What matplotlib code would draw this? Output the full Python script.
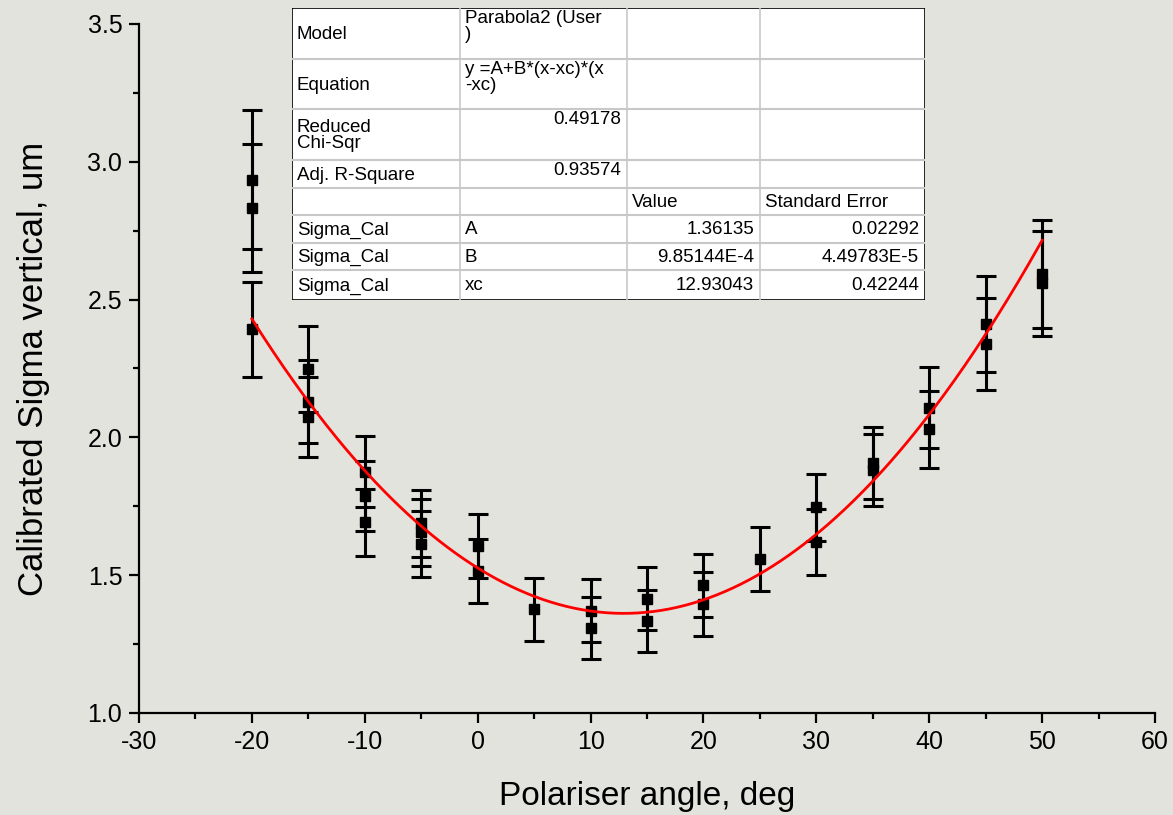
import numpy as np
import matplotlib
matplotlib.use("Agg")
import matplotlib.pyplot as plt
from matplotlib.ticker import MultipleLocator

plt.rcParams['font.family'] = ['Liberation Sans', 'DejaVu Sans']
plt.rcParams['axes.unicode_minus'] = False

# measured points (polariser angle, sigma, error)
angle = [-20, -20, -20, -15, -15, -15, -10, -10, -10, -5, -5, -5,
         0, 0, 5, 10, 10, 15, 15, 20, 20, 25, 30, 30, 35, 35,
         40, 40, 45, 45, 50, 50]
sigma = [2.934, 2.833, 2.392, 2.248, 2.130, 2.075, 1.876, 1.787, 1.692,
         1.688, 1.655, 1.613, 1.606, 1.515, 1.376, 1.371, 1.308,
         1.415, 1.334, 1.463, 1.396, 1.558, 1.746, 1.619, 1.906, 1.882,
         2.108, 2.030, 2.411, 2.338, 2.592, 2.559]
sigma_err = [0.252, 0.232, 0.172, 0.156, 0.150, 0.145, 0.130, 0.127, 0.122,
             0.121, 0.121, 0.120, 0.117, 0.117, 0.115, 0.114, 0.113,
             0.115, 0.113, 0.115, 0.115, 0.117, 0.121, 0.120, 0.131, 0.130,
             0.146, 0.140, 0.173, 0.167, 0.195, 0.190]

# fit results from the table
fit_A = 1.36135
fit_B = 9.85144e-4
fit_xc = 12.93043

table_rows = [
    ["Model", "Parabola2 (User\n)", "", ""],
    ["Equation", "y =A+B*(x-xc)*(x\n-xc)", "", ""],
    ["Reduced\nChi-Sqr", "0.49178", "", ""],
    ["Adj. R-Square", "0.93574", "", ""],
    ["", "", "Value", "Standard Error"],
    ["Sigma_Cal", "A", "1.36135", "0.02292"],
    ["Sigma_Cal", "B", "9.85144E-4", "4.49783E-5"],
    ["Sigma_Cal", "xc", "12.93043", "0.42244"],
]

bg = "#e3e3dd"
fig = plt.figure(figsize=(11.73, 8.15), dpi=100, facecolor=bg)
ax = fig.add_axes([0.1185, 0.1252, 0.8662, 0.8454])
ax.set_facecolor(bg)

ax.errorbar(angle, sigma, yerr=sigma_err, fmt="s", color="black", ms=7,
            elinewidth=2.2, capsize=7, capthick=2.2, zorder=3)

xf = np.linspace(-20, 50, 300)
ax.plot(xf, fit_A + fit_B * (xf - fit_xc) ** 2, color="red", lw=2, zorder=4)

ax.set_xlim(-30, 60)
ax.set_ylim(1.0, 3.5)
ax.xaxis.set_major_locator(MultipleLocator(10))
ax.xaxis.set_minor_locator(MultipleLocator(5))
ax.yaxis.set_major_locator(MultipleLocator(0.5))
ax.yaxis.set_minor_locator(MultipleLocator(0.25))
ax.yaxis.set_major_formatter(matplotlib.ticker.FormatStrFormatter("%.1f"))
for s in ["top", "right"]:
    ax.spines[s].set_visible(False)
for s in ["left", "bottom"]:
    ax.spines[s].set_linewidth(1.6)
ax.tick_params(which="major", direction="out", length=7, width=1.6, labelsize=18, pad=5)
ax.tick_params(which="minor", direction="out", length=4, width=1.6)

ax.set_xlabel("Polariser angle, deg", fontsize=24, labelpad=20)
ax.set_ylabel("Calibrated Sigma vertical, um", fontsize=25, labelpad=27)

# fit table, drawn in pixel-like units
tab = fig.add_axes([292 / 1173, 1 - 300 / 815, 633 / 1173, 292 / 815])
tab.set_xlim(0, 633)
tab.set_ylim(292, 0)
tab.axis("off")
tab.add_patch(plt.Rectangle((0, 0), 633, 292, facecolor="white",
                            edgecolor="black", lw=1.2, zorder=1))
col_edges = [0, 168, 335, 468, 633]
row_edges = [0, 51, 101, 152, 180, 207, 235, 262, 292]
for c in col_edges[1:-1]:
    tab.plot([c, c], [0, 292], color="#c8c8c8", lw=1.2, zorder=2)
for r in row_edges[1:-1]:
    tab.plot([0, 633], [r, r], color="#c8c8c8", lw=1.5, zorder=2)
fs = 13.5
for i, row in enumerate(table_rows):
    y0, y1 = row_edges[i], row_edges[i + 1]
    for j, txt in enumerate(row):
        if not txt:
            continue
        x0, x1 = col_edges[j], col_edges[j + 1]
        if j == 0 or (j == 1 and i >= 5) or i == 4:
            tab.text(x0 + 5, (y0 + y1) / 2 + 1, txt, fontsize=fs, ha="left",
                     va="center", zorder=3, linespacing=0.95)
        elif j == 1 and i < 2:
            tab.text(x0 + 5, y0 + 2, txt, fontsize=fs, ha="left",
                     va="top", zorder=3, linespacing=0.95)
        elif j == 1:
            tab.text(x1 - 6, y0 + 2, txt, fontsize=fs, ha="right",
                     va="top", zorder=3)
        else:
            tab.text(x1 - 6, (y0 + y1) / 2 + 1, txt, fontsize=fs, ha="right",
                     va="center", zorder=3)

fig.savefig("out.png", dpi=100, facecolor=bg)
